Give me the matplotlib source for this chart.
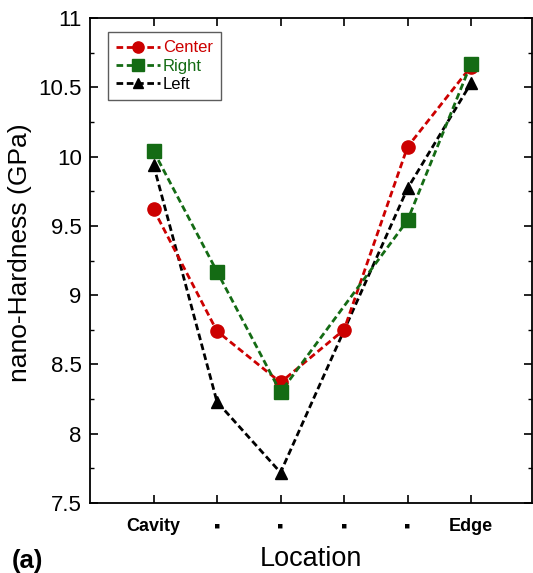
import matplotlib
matplotlib.use("Agg")
import matplotlib.pyplot as plt
from matplotlib.ticker import MultipleLocator

plt.rcParams['font.family'] = ['Liberation Sans', 'DejaVu Sans']

positions = [1, 2, 3, 4, 5, 6]
tick_labels = ["Cavity", "\u25aa", "\u25aa", "\u25aa", "\u25aa", "Edge"]

center_x = [1, 2, 3, 4, 5, 6]
center_y = [9.62, 8.74, 8.37, 8.75, 10.07, 10.65]
right_x = [1, 2, 3, 5, 6]
right_y = [10.04, 9.17, 8.30, 9.54, 10.67]
left_x = [1, 2, 3, 5, 6]
left_y = [9.94, 8.23, 7.72, 9.77, 10.53]

W, H = 533, 573
fig = plt.figure(figsize=(W / 100, H / 100), dpi=100)
ax = fig.add_axes([90 / W, (H - 503) / H, (532 - 90) / W, (503 - 18) / H])

dash = (2.4, 1.3)
lw = 2.0
ax.plot(center_x, center_y, color='#cc0000', lw=lw, dashes=dash, marker='o',
        markersize=9.5, label='Center', zorder=3)
ax.plot(right_x, right_y, color='#146b14', lw=lw, dashes=dash, marker='s',
        markersize=9.5, label='Right', zorder=4)
ax.plot(left_x, left_y, color='black', lw=lw, dashes=dash, marker='^',
        markersize=8.5, label='Left', zorder=2)

ax.set_xlim(0, 6.96)
ax.set_ylim(7.5, 11)
ax.set_xticks(positions)
ax.set_xticklabels(tick_labels, fontsize=13, fontweight='bold')
ax.yaxis.set_major_locator(MultipleLocator(0.5))
ax.yaxis.set_minor_locator(MultipleLocator(0.25))
ax.set_yticklabels([f"{v:g}" for v in ax.get_yticks()], fontsize=16)
ax.tick_params(axis='both', which='both', direction='in', top=True, right=True)
ax.tick_params(axis='both', which='major', length=6, width=1.2)
ax.tick_params(axis='y', which='minor', length=3, width=1.0)
ax.tick_params(axis='x', which='major', pad=11)
ax.tick_params(axis='y', which='major', pad=6)
for s in ax.spines.values():
    s.set_linewidth(1.3)

ax.set_ylabel("nano-Hardness (GPa)", fontsize=19)
ax.yaxis.set_label_coords((32 - 90) / 442, (503 - 253) / 485)
ax.set_xlabel("Location", fontsize=19.5, labelpad=8)

leg = ax.legend(loc='upper left', bbox_to_anchor=(0.022, 0.988), fontsize=12,
                frameon=True, fancybox=False, edgecolor='#333333',
                handlelength=2.6, handletextpad=0.2, borderpad=0.5,
                labelspacing=0.2, markerscale=0.85)
leg.get_frame().set_linewidth(1.0)
for text, line in zip(leg.get_texts(), leg.get_lines()):
    text.set_color(line.get_color())

fig.text(12 / W, 1 - 561 / H, "(a)", fontsize=18.5, fontweight='bold', va='center', ha='left')

fig.savefig("out.png", dpi=100)
